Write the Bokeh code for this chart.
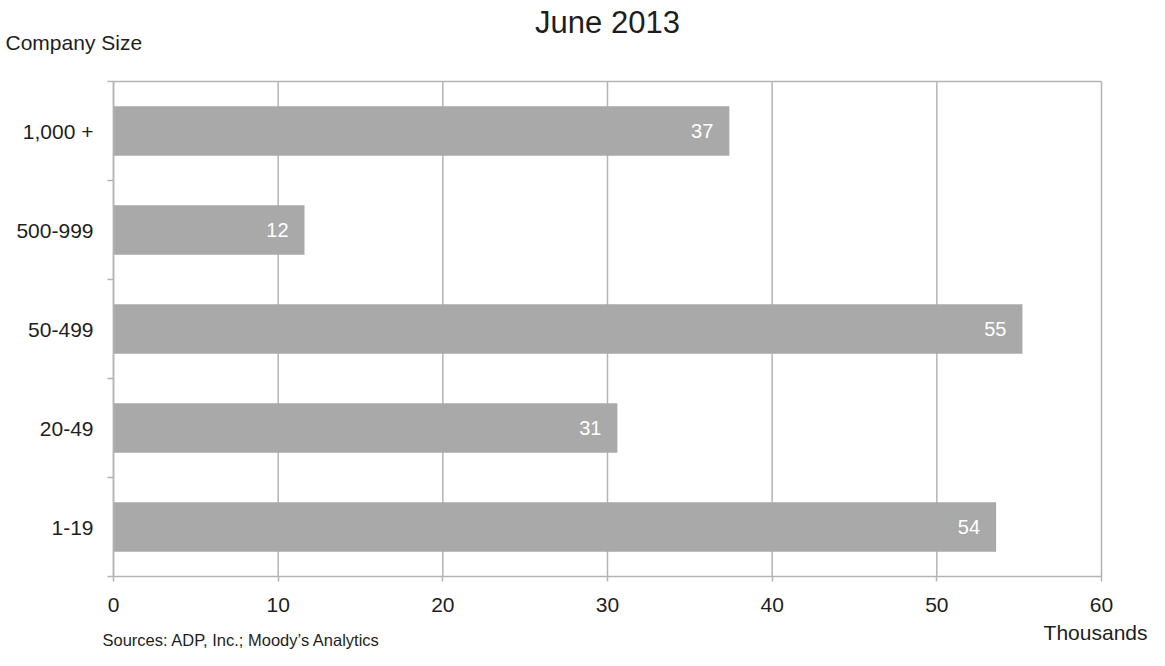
from bokeh.plotting import figure
from bokeh.models import Range1d, FixedTicker, Label, ColumnDataSource
from bokeh.core.properties import value
from bokeh.embed import file_html
from bokeh.resources import INLINE

# ---- data ----
categories = ["1,000 +", "500-999", "50-499", "20-49", "1-19"]   # top to bottom
values = [37.4, 11.6, 55.2, 30.6, 53.6]                         # thousands
xticks = [0, 10, 20, 30, 40, 50, 60]
title_text = "June 2013"
y_title = "Company Size"
x_title = "Thousands"
source_note = "Sources: ADP, Inc.; Moody\u2019s Analytics"

# ---- layout / style ----
W, H = 1149, 650
PLOT_L, PLOT_R, PLOT_T, PLOT_B = 113, 1101, 81, 576   # plot area in page pixels
FONT = "Liberation Sans"
GRID = "#b4b4b4"
BAR = "#a9a9a9"
TXT = "#1e1e1e"

n = len(categories)
centers = [n - i - 0.5 for i in range(n)]
bounds = list(range(n + 1))
labels = [str(int(round(v))) for v in values]

# ranges chosen so that the whole canvas is the frame and the plot area lands at PLOT_*
xs = (PLOT_R - PLOT_L) / (xticks[-1] - xticks[0])
ys = (PLOT_B - PLOT_T) / n
x_range = Range1d(xticks[0] - PLOT_L / xs, xticks[0] + (W - PLOT_L) / xs)
y_range = Range1d(-(H - PLOT_B) / ys, n + PLOT_T / ys)

src = ColumnDataSource(dict(y=centers, v=values, lab=labels, cat=categories))

p = figure(width=W, height=H, output_backend="svg", toolbar_location=None,
           x_range=x_range, y_range=y_range,
           min_border=0, min_border_left=0, min_border_right=0,
           min_border_top=0, min_border_bottom=0,
           background_fill_color="white", border_fill_color="white")
p.outline_line_color = None
p.xgrid.visible = False
p.ygrid.visible = False

# vertical gridlines at the x ticks, and top border of plot area
p.segment(x0=xticks, y0=[0] * len(xticks), x1=xticks, y1=[n] * len(xticks),
          line_color=GRID, line_width=1.5)
p.segment(x0=[xticks[0]], y0=[n], x1=[xticks[-1]], y1=[n], line_color=GRID, line_width=1.5)

p.hbar(y="y", left=0, right="v", height=0.5, source=src, fill_color=BAR, line_color=None)
p.text(x="v", y="y", text="lab", source=src, x_offset=-16, text_align="right",
       text_baseline="middle", text_color="white", text_font=value(FONT), text_font_size="20px")

# x axis
xa = p.xaxis[0]
xa.fixed_location = 0
xa.bounds = (xticks[0], xticks[-1])
xa.ticker = FixedTicker(ticks=xticks)
xa.axis_line_color = GRID
xa.axis_line_width = 1.5
xa.major_tick_out = 5
xa.major_tick_in = 0
xa.major_tick_line_color = GRID
xa.major_tick_line_width = 1.5
xa.minor_tick_line_color = None
xa.major_label_standoff = 16
xa.major_label_text_font = FONT
xa.major_label_text_font_size = "21px"
xa.major_label_text_color = TXT

# y axis
ya = p.yaxis[0]
ya.fixed_location = 0
ya.bounds = (0, n)
ya.ticker = FixedTicker(ticks=centers, minor_ticks=bounds)
ya.major_label_overrides = {c: cat for c, cat in zip(centers, categories)}
ya.axis_line_color = GRID
ya.axis_line_width = 1.5
ya.major_tick_out = 0
ya.major_tick_in = 0
ya.minor_tick_out = 6
ya.minor_tick_in = 0
ya.minor_tick_line_color = GRID
ya.minor_tick_line_width = 1.5
ya.major_label_standoff = 14
ya.major_label_text_font = FONT
ya.major_label_text_font_size = "21px"
ya.major_label_text_color = TXT

def page_label(text, px, py, align, size):
    # px, py: page pixels from top-left; screen units are frame-relative (frame = canvas)
    p.add_layout(Label(x=px, y=H - py, x_units="screen", y_units="screen", text=text,
                       text_align=align, text_baseline="alphabetic", text_font=FONT,
                       text_font_size=size, text_color=TXT))

page_label(title_text, (PLOT_L + PLOT_R) / 2, 22, "center", "31px")
page_label(y_title, 5, 42, "left", "21px")
page_label(x_title, W - 2, 632, "right", "21px")
page_label(source_note, 102, 639, "left", "16.5px")

open("out.html", "w").write(file_html(p, INLINE))
